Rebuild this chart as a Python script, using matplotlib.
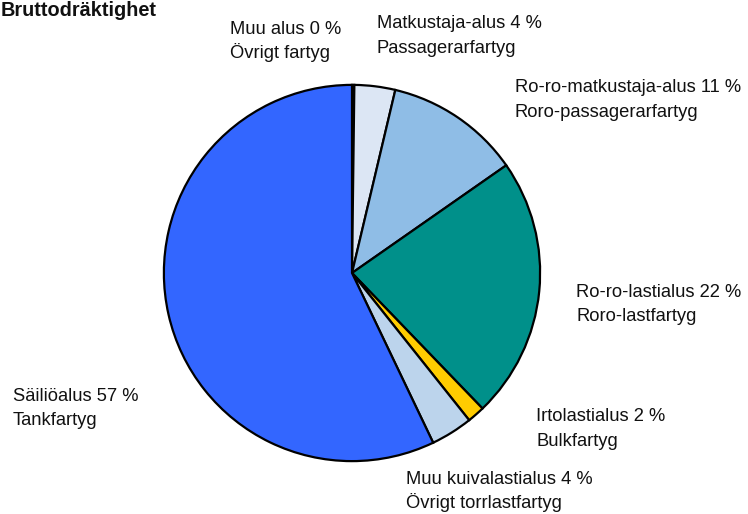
import matplotlib
matplotlib.use("Agg")
import matplotlib.pyplot as plt

plt.rcParams['font.family'] = ['Liberation Sans', 'DejaVu Sans']

categories_fi = ["Muu alus", "Matkustaja-alus", "Ro-ro-matkustaja-alus", "Ro-ro-lastialus",
                 "Irtolastialus", "Muu kuivalastialus", "Säiliöalus"]
categories_sv = ["Övrigt fartyg", "Passagerarfartyg", "Roro-passagerarfartyg", "Roro-lastfartyg",
                 "Bulkfartyg", "Övrigt torrlastfartyg", "Tankfartyg"]
pct_labels = [0, 4, 11, 22, 2, 4, 57]
values = [0.2, 3.5, 11.6, 22.5, 1.5, 3.6, 57.1]
colors = ["#1f3a7a", "#dce6f4", "#8fbde6", "#00908a", "#ffcc00", "#bcd4ec", "#3366ff"]

W, H = 748, 514
fig = plt.figure(figsize=(W/100, H/100), dpi=100)
cx, cy, r = 352, 273, 190
ax = fig.add_axes([(cx - r)/W, (H - cy - r)/H, 2*r/W, 2*r/H])
ax.pie(values, colors=colors, startangle=90, counterclock=False,
       wedgeprops=dict(edgecolor='black', linewidth=1.6))
ax.set_xlim(-1.01, 1.01)
ax.set_ylim(-1.01, 1.01)
ax.set_aspect('equal')
ax.axis('off')

# label positions (pixel: left x, baseline of first line, baseline of second line)
pos = [(230, 34, 58), (377, 28, 53), (515, 92, 117), (576, 297, 321),
       (536, 421, 446), (406, 484, 508), (13, 401, 425)]
fs = 13.2
for (x, y1, y2), fi, sv, p in zip(pos, categories_fi, categories_sv, pct_labels):
    fig.text(x/W, 1 - y1/H, f"{fi} {p} %", ha='left', va='baseline', fontsize=fs, color='#111111')
    fig.text(x/W, 1 - y2/H, sv, ha='left', va='baseline', fontsize=fs, color='#111111')

fig.text(1/W, 1 - 16/H, "Bruttodräktighet", ha='left', va='baseline', fontsize=14.3,
         fontweight='bold', color='#111111')

fig.savefig("out.png", dpi=100)
